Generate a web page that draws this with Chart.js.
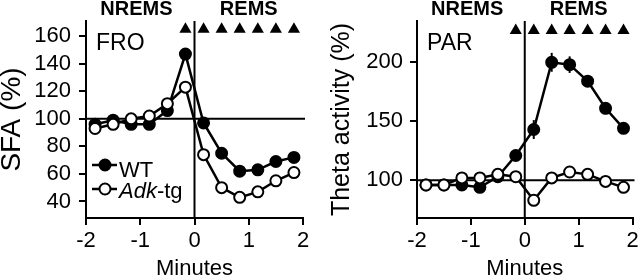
<!DOCTYPE html>
<html>
<head>
<meta charset="utf-8">
<script src="https://cdn.jsdelivr.net/npm/chart.js@4"></script>
<style>
  html, body { margin:0; padding:0; background:#fff; }
  .wrap { display:flex; width:640px; height:278px; }
  canvas { display:block; }
</style>
</head>
<body>
<div class="wrap">
  <canvas id="fro" width="320" height="278"></canvas>
  <canvas id="par" width="320" height="278"></canvas>
</div>
<script>
// ─── Data ────────────────────────────────────────────────────────────────────
const minutes  = [-1.833, -1.5, -1.167, -0.833, -0.5, -0.167, 0.167, 0.5, 0.833, 1.167, 1.5, 1.833];
const froWT    = [96, 99, 96, 96, 106, 147, 97, 75, 62, 63, 69, 72];
const froAdk   = [93, 96, 100, 102, 111, 123, 74, 50, 43, 47, 55, 61];
const froWTErr = [0, 0, 0, 0, 0, 3, 4, 0, 0, 0, 0, 0];
const parWT    = [96, 96, 96, 94, 103, 121, 143, 200, 198, 184, 161, 144];
const parAdk   = [96, 96, 102, 102, 105, 103, 83, 102, 107, 105, 99, 94];
const parWTErr = [0, 0, 0, 0, 0, 0, 8, 8, 7, 5, 5, 3];
const sigMarks = [-0.167, 0.167, 0.5, 0.833, 1.167, 1.5, 1.833];   // ▲ = significant bins
const xTicks   = [-2, -1, 0, 1, 2];
const froTicks = [40, 60, 80, 100, 120, 140, 160];
const parTicks = [100, 150, 200];

// ─── Look ────────────────────────────────────────────────────────────────────
const FAM = '"Liberation Sans", Arial, sans-serif';
const K = '#000';
Chart.defaults.font.family = FAM;
Chart.defaults.font.size = 22;
Chart.defaults.color = K;

const pts = arr => arr.map((v, i) => ({ x: minutes[i], y: v }));

function series(vals, fill, err) {
  return {
    data: pts(vals), err,
    borderColor: K, borderWidth: 2.5, tension: 0, clip: false,
    pointRadius: 5.5, pointHoverRadius: 5.5,
    pointBackgroundColor: fill, pointBorderColor: K, pointBorderWidth: 2
  };
}

function marks(yVal) {
  return {
    data: sigMarks.map(m => ({ x: m, y: yVal })),
    showLine: false, clip: false,
    pointStyle: 'triangle', pointRadius: 7, pointHoverRadius: 7,
    pointBackgroundColor: K, pointBorderColor: K, pointBorderWidth: 0
  };
}

// reference lines, error bars, headers, panel label, legend
const decor = {
  id: 'decor',
  beforeDatasetsDraw(chart) {
    const { ctx, chartArea: a, scales: { x, y } } = chart;
    ctx.save();
    ctx.strokeStyle = K;
    ctx.lineWidth = 2;
    const y100 = y.getPixelForValue(100);
    ctx.beginPath(); ctx.moveTo(a.left, y100); ctx.lineTo(a.right + 2, y100); ctx.stroke();
    const x0 = x.getPixelForValue(0);
    ctx.beginPath(); ctx.moveTo(x0, a.top); ctx.lineTo(x0, a.bottom); ctx.stroke();
    chart.data.datasets.forEach(ds => {
      if (!ds.err) return;
      ds.data.forEach((p, j) => {
        const e = ds.err[j];
        if (!e) return;
        const px = x.getPixelForValue(p.x);
        ctx.beginPath();
        ctx.moveTo(px, y.getPixelForValue(p.y - e));
        ctx.lineTo(px, y.getPixelForValue(p.y + e));
        ctx.stroke();
      });
    });
    ctx.restore();
  },
  afterDraw(chart, args, o) {
    const { ctx, scales: { x } } = chart;
    ctx.save();
    ctx.fillStyle = K;
    ctx.textAlign = 'center';
    ctx.textBaseline = 'alphabetic';
    ctx.font = 'bold 20px ' + FAM;
    ctx.fillText('NREMS', x.getPixelForValue(-1.07), 15);
    ctx.fillText('REMS', x.getPixelForValue(1), 15);
    ctx.textAlign = 'left';
    ctx.font = '23px ' + FAM;
    ctx.fillText(o.label, o.labelX, 50);
    if (o.legend) {
      const rows = [
        { y: 165, base: 177, fill: K, parts: [['WT', '']] },
        { y: 189, base: 198, fill: '#fff', parts: [['Adk', 'italic '], ['-tg', '']] }
      ];
      rows.forEach(r => {
        ctx.strokeStyle = K; ctx.lineWidth = 2.5;
        ctx.beginPath(); ctx.moveTo(92, r.y); ctx.lineTo(117, r.y); ctx.stroke();
        ctx.beginPath(); ctx.arc(105, r.y, 5.5, 0, Math.PI * 2);
        ctx.fillStyle = r.fill; ctx.fill();
        ctx.lineWidth = 2; ctx.stroke();
        ctx.fillStyle = K;
        let tx = 119;
        r.parts.forEach(([t, st]) => {
          ctx.font = st + '22px ' + FAM;
          ctx.fillText(t, tx, r.base);
          tx += ctx.measureText(t).width;
        });
      });
    }
    ctx.restore();
  }
};

function scalesFor(yMin, yMax, yTicks, yTitle, titleSize, yW, titlePad, tickPad) {
  return {
    x: {
      type: 'linear', min: -2, max: 2,
      afterBuildTicks: s => { s.ticks = xTicks.map(v => ({ value: v })); },
      afterFit: s => { s.height = 60; s.paddingLeft = 0; s.paddingRight = 0; },
      grid: { drawOnChartArea: false, color: K, lineWidth: 2, tickLength: 7 },
      border: { color: K, width: 2 },
      ticks: { color: K, font: { family: FAM, size: 22 }, padding: 3, maxRotation: 0, autoSkip: false },
      title: { display: true, text: 'Minutes', color: K, padding: { top: 0, bottom: -2 },
               font: { family: FAM, size: 22, lineHeight: 1 } }
    },
    y: {
      type: 'linear', min: yMin, max: yMax,
      afterBuildTicks: s => { s.ticks = yTicks.map(v => ({ value: v })); },
      afterFit: s => { s.width = yW; s.paddingTop = 0; s.paddingBottom = 0; },
      grid: { drawOnChartArea: false, color: K, lineWidth: 2, tickLength: 7 },
      border: { color: K, width: 2 },
      ticks: { color: K, font: { family: FAM, size: 22 }, padding: tickPad, autoSkip: false },
      title: { display: true, text: yTitle, color: K, padding: { top: titlePad, bottom: 0 },
               font: { family: FAM, size: titleSize, lineHeight: 1 } }
    }
  };
}

function build(id, wt, adk, wtErr, markY, yMin, yMax, yTicks, yTitle, titleSize, yW, padR, titlePad, tickPad, label, labelX, legend) {
  return new Chart(document.getElementById(id), {
    type: 'line',
    data: { datasets: [marks(markY), series(adk, '#fff'), series(wt, K, wtErr)] },
    options: {
      responsive: false, animation: false, devicePixelRatio: 1,
      layout: { padding: { left: 0, right: padR, top: 21, bottom: 0 } },
      plugins: { legend: { display: false }, tooltip: { enabled: false },
                 decor: { label, labelX, legend } },
      scales: scalesFor(yMin, yMax, yTicks, yTitle, titleSize, yW, titlePad, tickPad)
    },
    plugins: [decor]
  });
}

build('fro', froWT, froAdk, froWTErr, 165, 28, 171, froTicks, 'SFA (%)', 28, 86, 17, -2, 8, 'FRO', 96, true);
build('par', parWT, parAdk, parWTErr, 227, 68, 235, parTicks, 'Theta activity (%)', 25, 97, 5, 10, 7, 'PAR', 107, false);
</script>
</body>
</html>
